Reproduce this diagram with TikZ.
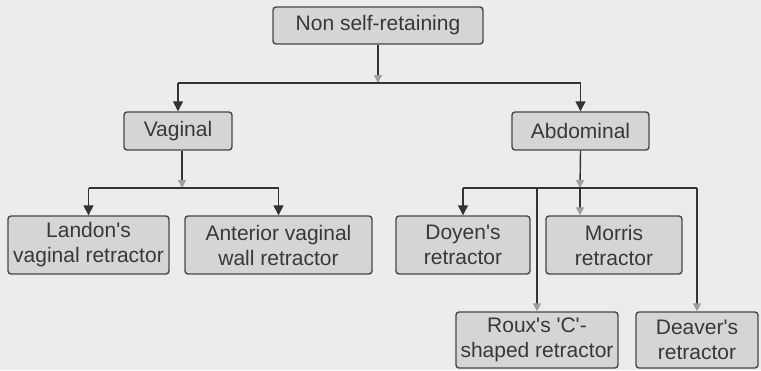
\documentclass[tikz,border=0pt]{standalone}
\usepackage{fontspec}
\setmainfont{Liberation Sans}
\usetikzlibrary{arrows.meta}
\definecolor{bg}{HTML}{ECECEC}
\definecolor{boxfill}{HTML}{D5D5D5}
\definecolor{boxline}{HTML}{474747}
\definecolor{txt}{HTML}{383838}
\definecolor{lin}{HTML}{333333}
\tikzset{
  box/.style={draw=boxline, line width=1.4pt, fill=boxfill, rounded corners=3pt,
    inner sep=0pt, align=center, text=txt, font=\fontsize{21}{25}\selectfont},
  conn/.style={draw=lin, line width=1.4pt},
  arr/.style={conn, -{Triangle[length=10pt,width=10pt]}},
  farr/.style={conn, -{Triangle[length=8pt,width=8pt,color=gray!75]}}
}
\newcommand{\sq}{\textquotesingle}
\begin{document}
\begin{tikzpicture}[x=1pt,y=-1pt]
\fill[bg] (0,0) rectangle (761,370);
\useasboundingbox (0,0) rectangle (761,370);
\node[box, minimum width=210pt, minimum height=37pt] (top) at (378,25.5) {Non self-retaining};
\node[box, minimum width=108pt, minimum height=38pt] (vag) at (178,131) {Vaginal};
\node[box, minimum width=137pt, minimum height=38pt] (abd) at (580.5,131) {Abdominal};
\node[box, minimum width=161pt, minimum height=58pt] (lan) at (88.5,245) {Landon\sq s\\vaginal retractor};
\node[box, minimum width=187pt, minimum height=58pt] (ant) at (278.5,245) {Anterior vaginal\\wall retractor};
\node[box, minimum width=134pt, minimum height=58pt] (doy) at (463,245) {Doyen\sq s\\retractor};
\node[box, minimum width=136pt, minimum height=58pt] (mor) at (614,245) {Morris\\retractor};
\node[box, minimum width=162pt, minimum height=56pt] (roux) at (537,340) {Roux\sq s \sq C\sq -\\shaped retractor};
\node[box, minimum width=122pt, minimum height=56pt] (dea) at (697,340) {Deaver\sq s\\retractor};
\coordinate (j1) at (378,83);
\coordinate (j2) at (182,188);
\coordinate (j3) at (580,188);
% level 1
\draw[farr] (top.south) -- (j1);
\draw[conn] (j1 -| vag.north) -- (j1 -| abd.north);
\draw[arr] (j1 -| vag.north) -- (vag.north);
\draw[arr] (j1 -| abd.north) -- (abd.north);
% vaginal
\draw[farr] (vag.south -| j2) -- (j2);
\draw[conn] (j2 -| lan.north) -- (j2 -| ant.north);
\draw[arr] (j2 -| lan.north) -- (lan.north);
\draw[arr] (j2 -| ant.north) -- (ant.north);
% abdominal
\draw[farr] (abd.south) -- (j3);
\draw[conn] (j3 -| doy.north) -- (j3 -| dea.north);
\draw[arr] (j3 -| doy.north) -- (doy.north);
\draw[farr] (j3) -- (mor.north -| j3);
\draw[farr] (j3 -| roux.north) -- (roux.north);
\draw[farr] (j3 -| dea.north) -- (dea.north);
\end{tikzpicture}
\end{document}
